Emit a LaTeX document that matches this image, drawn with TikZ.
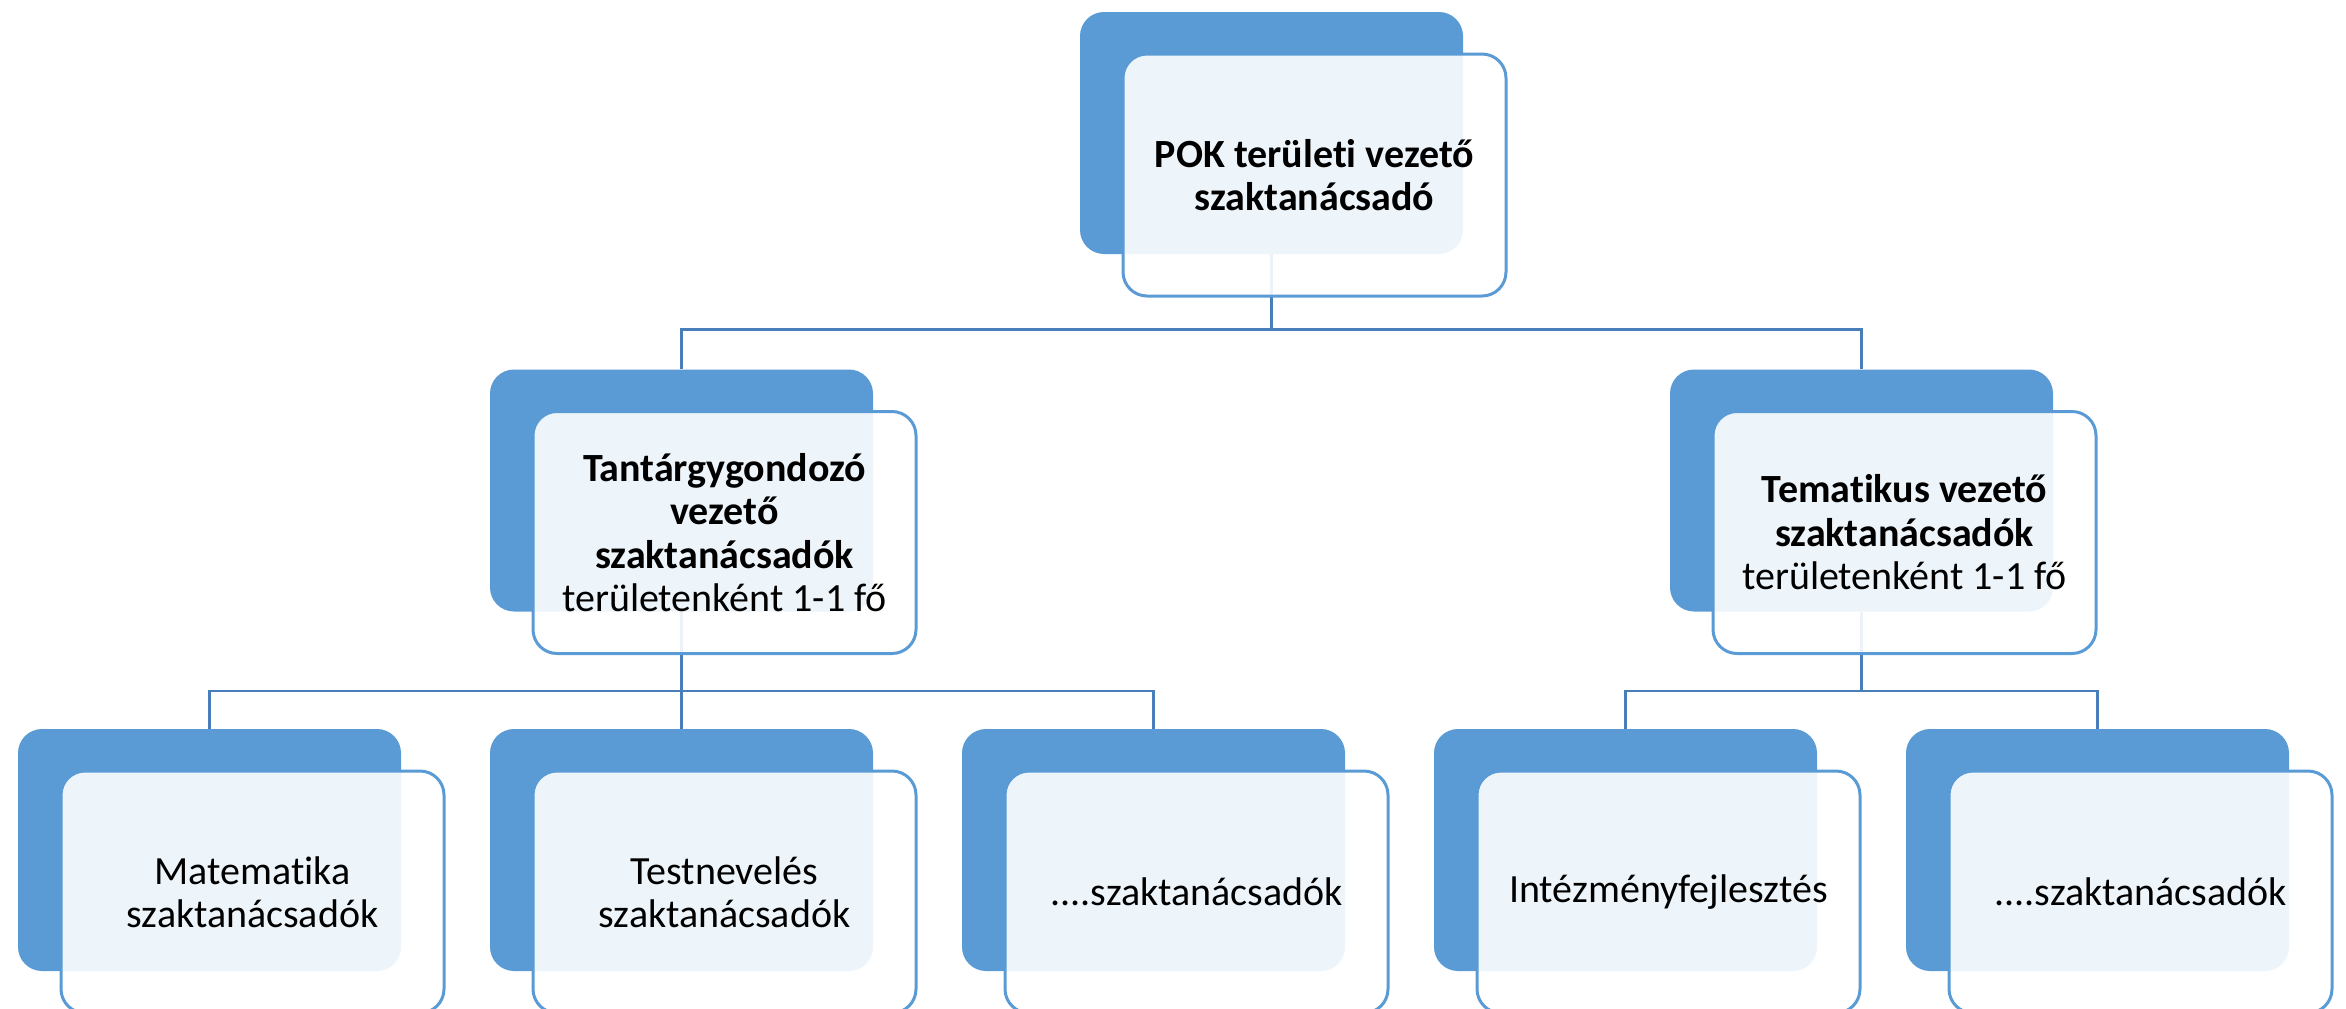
\documentclass[tikz,border=0pt]{standalone}
\usepackage{fontspec}
\setmainfont{Carlito}[Ligatures=NoCommon]
\usetikzlibrary{positioning}
\definecolor{boxBlue}{RGB}{91,155,213}
\definecolor{lineBlue}{RGB}{72,126,186}

\begin{document}
\begin{tikzpicture}[
    x=0.5pt, y=-0.5pt,
    back/.style={%
      rectangle,
      rounded corners=12pt,
      fill=boxBlue,
      minimum width=191.5pt,
      minimum height=121pt,
    },
    front/.style={%
      rectangle,
      rounded corners=12pt,
      draw=boxBlue,
      line width=1.5pt,
      fill=white,
      fill opacity=0.9,
      text opacity=1,
      minimum width=191.5pt,
      minimum height=121pt,
      align=center,
      font=\fontsize{20}{21.7}\selectfont,
    },
    link/.style={%
      draw=lineBlue,
      line width=1.3pt,
    },
  ]
    \useasboundingbox (0,0) rectangle (2346,1008);

    % back boxes
    \node [back] (pok) at (1271.5,133) {};
    \node [back] (tant) at (681.5,490.5) {};
    \node [back] (tema) at (1861.5,490.5) {};
    \node [back] (mat) at (209.5,850) {};
    \node [back] (test) at (681.5,850) {};
    \node [back] (szakA) at (1153.5,850) {};
    \node [back] (intez) at (1625.5,850) {};
    \node [back] (szakB) at (2097.5,850) {};

    % connectors
    \draw [link] (pok.south) -- ++(0,75) -| (tant.north);
    \draw [link] (pok.south) -- ++(0,75) -| (tema.north);
    \draw [link] (tant.south) -- ++(0,79) -| (mat.north);
    \draw [link] (tant.south) -- ++(0,79) -| (test.north);
    \draw [link] (tant.south) -- ++(0,79) -| (szakA.north);
    \draw [link] (tema.south) -- ++(0,79) -| (intez.north);
    \draw [link] (tema.south) -- ++(0,79) -| (szakB.north);

    % front boxes
    \path (pok) ++(43,42) node [front] (pokF) {\textbf{POK területi vezető}\\ \textbf{szaktanácsadó}};
    \path (tant) ++(43,42) node [front] (tantF) {\textbf{Tantárgygondozó}\\ \textbf{vezető}\\ \textbf{szaktanácsadók}\\ területenként 1-1 fő};
    \path (tema) ++(43,42) node [front] (temaF) {\textbf{Tematikus vezető}\\ \textbf{szaktanácsadók}\\ területenként 1-1 fő};
    \path (mat) ++(43,42) node [front] (matF) {Matematika\\ szaktanácsadók};
    \path (test) ++(43,42) node [front] (testF) {Testnevelés\\ szaktanácsadók};
    \path (szakA) ++(43,42) node [front] (szakAF) {....szaktanácsadók};
    \path (intez) ++(43,42) node [front] (intezF) {Intézményfejlesztés};
    \path (szakB) ++(43,42) node [front] (szakBF) {....szaktanácsadók};
\end{tikzpicture}
\end{document}
